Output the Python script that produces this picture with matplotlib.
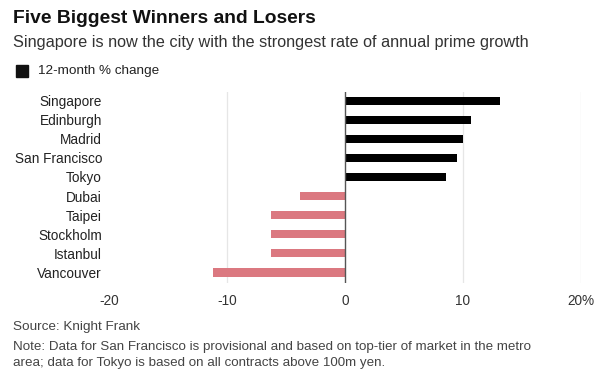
import matplotlib
matplotlib.use("Agg")
import matplotlib.pyplot as plt
from matplotlib.patches import Rectangle

cities = ["Singapore", "Edinburgh", "Madrid", "San Francisco", "Tokyo",
          "Dubai", "Taipei", "Stockholm", "Istanbul", "Vancouver"]
changes = [13.1, 10.7, 10.0, 9.5, 8.6, -3.8, -6.3, -6.3, -6.3, -11.2]
xticks = [-20, -10, 0, 10, 20]
xtick_labels = ["-20", "-10", "0", "10", "20%"]

plt.rcParams['font.family'] = ['Liberation Sans', 'DejaVu Sans']

fig = plt.figure(figsize=(6.16, 3.72), dpi=100)
fig.patch.set_facecolor("white")
ax = fig.add_axes([109/616, 1-283/372, (581-109)/616, (283-92)/372])

colors = ["#000000" if v >= 0 else "#db7880" for v in changes]
ypos = list(range(len(cities)))
ax.barh(ypos, changes, height=0.42, color=colors, zorder=3)

ax.set_xlim(-20, 20)
ax.set_ylim(9.55, -0.45)
ax.set_yticks(ypos)
ax.set_yticklabels(cities, fontsize=9.8, color="#222222")
ax.set_xticks(xticks)
ax.set_xticklabels(xtick_labels, fontsize=9.8, color="#333333")
ax.tick_params(axis="both", length=0)
ax.tick_params(axis="y", pad=5)
ax.tick_params(axis="x", pad=8)
for s in ax.spines.values():
    s.set_visible(False)
for t in [-10, 10, 20]:
    ax.axvline(t, color="#e6e6e6", lw=0.9, zorder=1)
ax.axvline(0, color="#555555", lw=1.0, zorder=4)

fig.text(13/616, 1-18.5/372, "Five Biggest Winners and Losers", fontsize=13.9,
         fontweight="bold", color="#111111", va="center")
fig.text(13/616, 1-43/372,
         "Singapore is now the city with the strongest rate of annual prime growth",
         fontsize=11.7, color="#333333", va="center")
fig.patches.append(Rectangle((16/616, 1-77/372), 12/616, 12/372,
                             transform=fig.transFigure, color="#111111"))
fig.text(38/616, 1-71/372, "12-month % change", fontsize=9.7, color="#222222",
         va="center")
fig.text(13/616, 1-327/372, "Source: Knight Frank", fontsize=9.7,
         color="#444444", va="center")
fig.text(13/616, 1-347/372,
         "Note: Data for San Francisco is provisional and based on top-tier of market in the metro",
         fontsize=9.6, color="#444444", va="center")
fig.text(13/616, 1-363/372,
         "area; data for Tokyo is based on all contracts above 100m yen.",
         fontsize=9.6, color="#444444", va="center")

fig.savefig("out.png", dpi=100)
